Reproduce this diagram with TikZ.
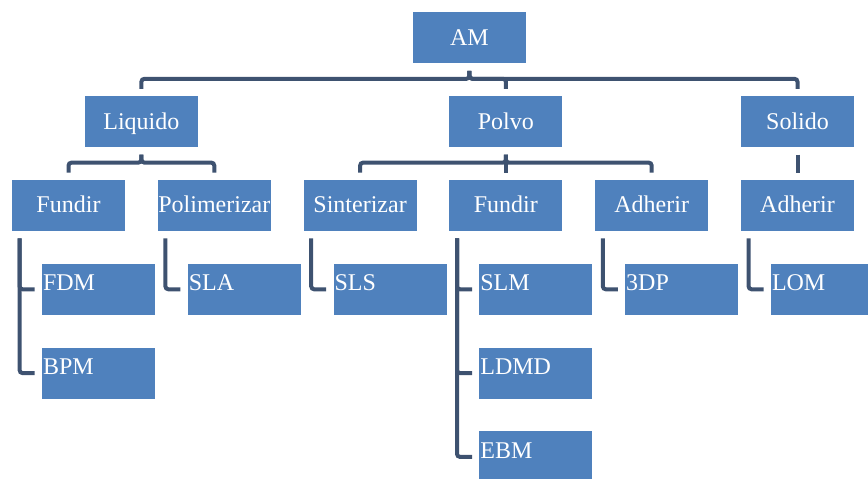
\documentclass[tikz,border=0pt]{standalone}
\usepackage{fontspec}
\setmainfont{Liberation Serif}
\usepackage{tikz}
\usetikzlibrary{positioning, calc}
\definecolor{boxblue}{RGB}{79,129,189}
\definecolor{linegray}{RGB}{62,82,112}

\begin{document}
\begin{tikzpicture}[
				node distance=16pt and 16pt,
				box/.style={rectangle, fill=boxblue, minimum width=56.5pt, minimum height=25.5pt,
					inner sep=0pt, align=center, text=white, font=\fontsize{12}{14}\selectfont,
					text height=8.2pt, text depth=0.8pt},
				leaf/.style={box, text width=55.5pt, align=left,
					text height=8.2pt, text depth=6.6pt},
				conn/.style={line width=2pt, color=linegray, rounded corners=1.5pt,
					shorten <=3.5pt, shorten >=3.5pt}
				]
				\useasboundingbox (0,0) rectangle (434pt,-239pt);

				% tercer nivel
				\node[box] (fundirL) at (34.25pt,-102.75pt) {Fundir};
				\node[box, right=of fundirL] (polim) {Polimerizar};
				\node[box, right=of polim] (sinter) {Sinterizar};
				\node[box, right=of sinter] (fundirP) {Fundir};
				\node[box, right=of fundirP] (adherP) {Adherir};
				\node[box, right=of adherP] (adherS) {Adherir};

				% segundo nivel
				\coordinate (liqmid) at ($(fundirL.north)!0.5!(polim.north)$);
				\node[box, above=of liqmid] (liquido) {Liquido};
				\node[box, above=of fundirP] (polvo) {Polvo};
				\node[box, above=of adherS] (solido) {Solido};

				% raiz
				\coordinate (ammid) at ($(liquido.north)!0.5!(solido.north)$);
				\node[box, above=of ammid] (am) {AM};

				% procesos
				\node[leaf, below=of fundirL.south west, anchor=north west, xshift=15pt] (fdm) {FDM};
				\node[leaf, below=of fdm] (bpm) {BPM};
				\node[leaf, below=of polim.south west, anchor=north west, xshift=15pt] (sla) {SLA};
				\node[leaf, below=of sinter.south west, anchor=north west, xshift=15pt] (sls) {SLS};
				\node[leaf, below=of fundirP.south west, anchor=north west, xshift=15pt] (slm) {SLM};
				\node[leaf, below=of slm] (ldmd) {LDMD};
				\node[leaf, below=of ldmd] (ebm) {EBM};
				\node[leaf, below=of adherP.south west, anchor=north west, xshift=15pt] (tdp) {3DP};
				\node[leaf, below=of adherS.south west, anchor=north west, xshift=15pt] (lom) {LOM};

				\draw[conn] (am.south) -- ++(0,-7.5pt) -| (liquido.north);
				\draw[conn] (am.south) -- ++(0,-7.5pt) -| (polvo.north);
				\draw[conn] (am.south) -- ++(0,-7.5pt) -| (solido.north);

				\draw[conn] (liquido.south) -- ++(0,-7.5pt) -| (fundirL.north);
				\draw[conn] (liquido.south) -- ++(0,-7.5pt) -| (polim.north);
				\draw[conn] (polvo.south) -- ++(0,-7.5pt) -| (sinter.north);
				\draw[conn] (polvo.south) -- (fundirP.north);
				\draw[conn] (polvo.south) -- ++(0,-7.5pt) -| (adherP.north);
				\draw[conn] (solido.south) -- (adherS.north);

				\draw[conn] ([xshift=4pt]fundirL.south west) |- (fdm.west);
				\draw[conn] ([xshift=4pt]fundirL.south west) |- (bpm.west);
				\draw[conn] ([xshift=4pt]polim.south west) |- (sla.west);
				\draw[conn] ([xshift=4pt]sinter.south west) |- (sls.west);
				\draw[conn] ([xshift=4pt]fundirP.south west) |- (slm.west);
				\draw[conn] ([xshift=4pt]fundirP.south west) |- (ldmd.west);
				\draw[conn] ([xshift=4pt]fundirP.south west) |- (ebm.west);
				\draw[conn] ([xshift=4pt]adherP.south west) |- (tdp.west);
				\draw[conn] ([xshift=4pt]adherS.south west) |- (lom.west);
			\end{tikzpicture}
\end{document}
